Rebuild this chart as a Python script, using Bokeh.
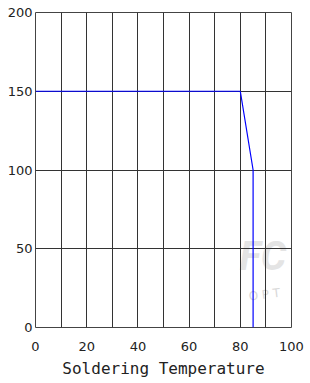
from bokeh.plotting import figure
from bokeh.models import Range1d, FixedTicker, Label
from bokeh.embed import file_html
from bokeh.resources import INLINE

# Data
x_vals = [0, 80, 85, 85]
y_vals = [150, 150, 100, 0]
x_ticks = [0, 20, 40, 60, 80, 100]
x_grid = [0, 10, 20, 30, 40, 50, 60, 70, 80, 90, 100]
y_ticks = [0, 50, 100, 150, 200]
x_title = "Soldering Temperature"

p = figure(frame_width=256, frame_height=315, output_backend="svg", toolbar_location=None,
           x_range=Range1d(0, 100), y_range=Range1d(0, 200),
           min_border_left=35, min_border_right=17, min_border_top=12, min_border_bottom=10)
p.background_fill_color = "white"
p.border_fill_color = "white"
p.outline_line_color = "#444444"
p.outline_line_width = 1

# watermark
wm = Label(x=204, y=48, x_units="screen", y_units="screen", text="FC",
           text_font="Roboto", text_font_size="40px", text_font_style="bold italic",
           text_color="#e4e4e4", level="image")
p.add_layout(wm)
wm2 = Label(x=214, y=24, x_units="screen", y_units="screen", text="O  P  T",
            text_font="DejaVu Sans", text_font_size="12px",
            text_color="#d8d8d8", level="image", angle=0.12)
p.add_layout(wm2)

p.line(x_vals, y_vals, line_color="#0000ff", line_width=1.2)

p.xaxis.ticker = FixedTicker(ticks=x_ticks)
p.yaxis.ticker = FixedTicker(ticks=y_ticks)
p.xgrid.ticker = FixedTicker(ticks=x_grid)
p.ygrid.ticker = FixedTicker(ticks=y_ticks)
for g in (p.xgrid, p.ygrid):
    g.grid_line_color = "#333333"
    g.grid_line_width = 1
    g.grid_line_alpha = 1

for ax in (p.xaxis, p.yaxis):
    ax.axis_line_color = None
    ax.major_tick_line_color = None
    ax.minor_tick_line_color = None
    ax.major_tick_out = 0
    ax.major_tick_in = 0
    ax.major_label_text_font = "DejaVu Sans"
    ax.major_label_text_font_size = "13px"
    ax.major_label_text_color = "#222222"

p.yaxis.major_label_standoff = 3
p.xaxis.major_label_standoff = 14
p.xaxis.axis_label = x_title
p.xaxis.axis_label_text_font = "DejaVu Sans Mono"
p.xaxis.axis_label_text_font_size = "16px"
p.xaxis.axis_label_text_font_style = "normal"
p.xaxis.axis_label_text_color = "#222222"
p.xaxis.axis_label_standoff = 5

open("out.html", "w").write(file_html(p, INLINE))
